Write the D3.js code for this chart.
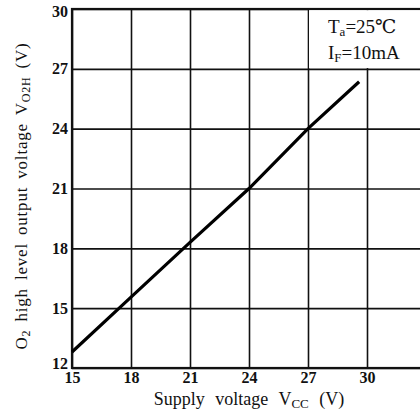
<!DOCTYPE html>
<html>
<head>
<meta charset="utf-8">
<script src="https://cdn.jsdelivr.net/npm/d3@7"></script>
<style>
  body { margin: 0; background: #fff; }
  svg text { font-family: "Liberation Serif", "DejaVu Serif", serif; font-weight: bold; fill: #111; }
  svg text.plain { font-weight: normal; }
</style>
</head>
<body>
<div id="chart"></div>
<script>
// supply voltage Vcc (V) vs O2 high level output voltage (V)
const vcc  = [15, 18, 21, 24, 27, 29.6]
const vo2h = [12.8, 15.55, 18.3, 21.0, 24.0, 26.35]
const xTicks = [15, 18, 21, 24, 27, 30, 33]
const yTicks = [12, 15, 18, 21, 24, 27, 30]

const W = 420, H = 420
const margin = {left: 72, top: 9, bottom: 52}
const plotH = H - margin.top - margin.bottom

const svg = d3.select("#chart").append("svg")
  .attr("width", W).attr("height", H)

const x = d3.scaleLinear().domain([15, 33]).range([margin.left, margin.left + 354])
const y = d3.scaleLinear().domain([12, 30]).range([margin.top + plotH, margin.top])

// grid lines via axes with long ticks
const gx = svg.append("g")
  .attr("transform", `translate(0,${y(12)})`)
  .call(d3.axisBottom(x).tickValues(xTicks).tickSizeInner(-plotH).tickSizeOuter(0).tickPadding(3))
gx.select(".domain").remove()
gx.selectAll("line").attr("stroke", "#111").attr("stroke-width", 1.6)
gx.selectAll("text").style("font-size", "16px").attr("dy", "0.75em")
  .text(d => d === 33 ? "" : d)

const gy = svg.append("g")
  .attr("transform", `translate(${x(15)},0)`)
  .call(d3.axisLeft(y).tickValues(yTicks).tickSizeInner(-(x(33) - x(15))).tickSizeOuter(0).tickPadding(4))
gy.select(".domain").remove()
gy.selectAll("line").attr("stroke", "#111").attr("stroke-width", 1.6)
gy.selectAll("text").style("font-size", "16px")
  .attr("y", d => d === 30 ? 2 : d === 12 ? -5 : 0)

// frame
svg.append("rect")
  .attr("x", x(15)).attr("y", y(30))
  .attr("width", x(33) - x(15)).attr("height", y(12) - y(30))
  .attr("fill", "none").attr("stroke", "#111").attr("stroke-width", 2.2)

// condition box, blanks the grid behind it
svg.append("rect")
  .attr("x", x(27) + 1).attr("y", y(30) + 1.2)
  .attr("width", x(33) - x(27)).attr("height", y(27) - y(30) - 2)
  .attr("fill", "#fff")

const cond = svg.append("g").style("font-size", "19px")
const t1 = cond.append("text").attr("class", "plain").attr("x", x(27) + 20).attr("y", y(30) + 24)
t1.append("tspan").text("T")
t1.append("tspan").attr("dy", 3).style("font-size", "13px").text("a")
t1.append("tspan").attr("dy", -3).text("=25℃")
const t2 = cond.append("text").attr("class", "plain").attr("x", x(27) + 20).attr("y", y(30) + 50)
t2.append("tspan").text("I")
t2.append("tspan").attr("dy", 3).style("font-size", "13px").text("F")
t2.append("tspan").attr("dy", -3).text("=10mA")

// characteristic line
const pts = vcc.map((v, i) => [v, vo2h[i]])
svg.append("path")
  .datum(pts)
  .attr("fill", "none").attr("stroke", "#000").attr("stroke-width", 3.2)
  .attr("d", d3.line().x(d => x(d[0])).y(d => y(d[1])))

// axis titles
const xl = svg.append("text").attr("class", "plain")
  .attr("x", 249).attr("y", 405).attr("text-anchor", "middle")
  .style("font-size", "18px").style("word-spacing", "6px")
xl.append("tspan").text("Supply voltage V")
xl.append("tspan").attr("dy", 3).style("font-size", "13px").text("CC")
xl.append("tspan").attr("dy", -3).text(" (V)")

const yl = svg.append("text").attr("class", "plain")
  .attr("transform", `translate(27,${196}) rotate(-90)`).attr("text-anchor", "middle")
  .style("font-size", "17px").style("letter-spacing", "0.8px").style("word-spacing", "3px")
yl.append("tspan").text("O")
yl.append("tspan").attr("dy", 3).style("font-size", "12px").text("2")
yl.append("tspan").attr("dy", -3).text(" high level output voltage V")
yl.append("tspan").attr("dy", 3).style("font-size", "12px").text("O2H")
yl.append("tspan").attr("dy", -3).text(" (V)")
</script>
</body>
</html>
